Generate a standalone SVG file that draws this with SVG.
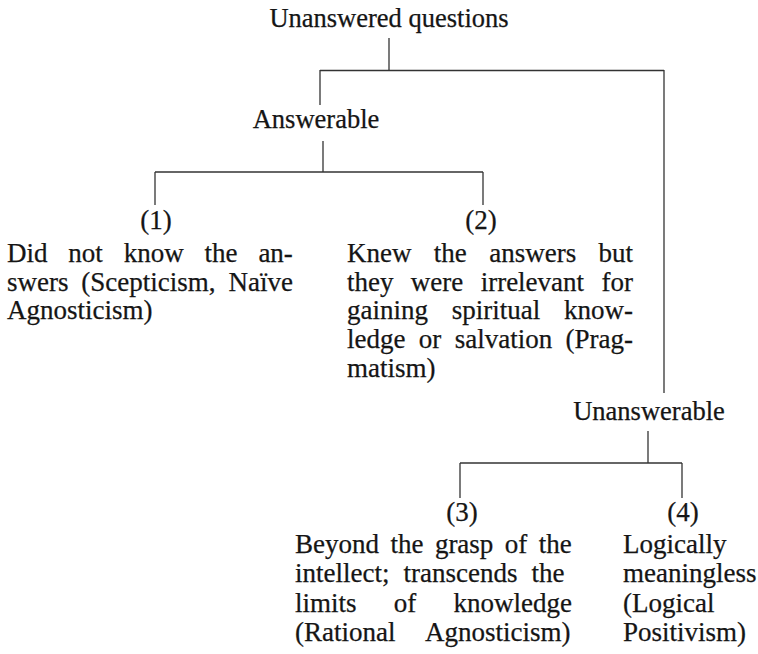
<svg xmlns="http://www.w3.org/2000/svg" width="758" height="654" viewBox="0 0 758 654">
<style>
text{font-family:"Liberation Serif","Times New Roman",serif;font-size:27px;fill:#151515;stroke:#151515;stroke-width:0.25}
.c{text-anchor:middle}
.lab{font-size:26.5px}
.conn line{stroke:#333;stroke-width:1.3;fill:none}
</style>
<rect width="758" height="654" fill="#fff"/>
<g class="conn" id="connectors">
<line x1="389" y1="38" x2="389" y2="70.5"/>
<line x1="320" y1="70.5" x2="664" y2="70.5"/>
<line x1="320" y1="70" x2="320" y2="105"/>
<line x1="664" y1="70" x2="664" y2="393"/>
<line x1="323" y1="141" x2="323" y2="172"/>
<line x1="155" y1="172" x2="483" y2="172"/>
<line x1="155" y1="172" x2="155" y2="205"/>
<line x1="483" y1="172" x2="483" y2="205"/>
<line x1="648" y1="431" x2="648" y2="463"/>
<line x1="460" y1="463" x2="682" y2="463"/>
<line x1="460" y1="463" x2="460" y2="498"/>
<line x1="682" y1="463" x2="682" y2="498"/>
</g>
<g id="root"><text class="c lab" x="389" y="27">Unanswered questions</text></g>
<g id="answerable"><text class="c lab" x="316" y="128">Answerable</text></g>
<g id="unanswerable"><text class="c lab" x="649" y="420">Unanswerable</text></g>
<g id="n1">
<text class="c" x="156" y="229">(1)</text>
<text x="7" y="262" word-spacing="14.1">Did not know the an-</text>
<text x="7" y="290.7" word-spacing="6.1">swers (Scepticism, Naïve</text>
<text x="7" y="319.4">Agnosticism)</text>
</g>
<g id="n2">
<text class="c" x="481" y="229">(2)</text>
<text x="347" y="262" word-spacing="15.6">Knew the answers but</text>
<text x="347" y="290.7" word-spacing="10.6">they were irrelevant for</text>
<text x="347" y="319.4" word-spacing="17">gaining spiritual know-</text>
<text x="347" y="348.1" word-spacing="6.6">ledge or salvation (Prag-</text>
<text x="347" y="376.8">matism)</text>
</g>
<g id="n3">
<text class="c" x="462" y="521">(3)</text>
<text x="295" y="553" word-spacing="4.7">Beyond the grasp of the</text>
<text x="295" y="582.3" word-spacing="7.3">intellect; transcends the</text>
<text x="295" y="611.6" word-spacing="30.5">limits of knowledge</text>
<text x="295" y="641" word-spacing="24.2">(Rational Agnosticism)</text>
</g>
<g id="n4">
<text class="c" x="683" y="521">(4)</text>
<text x="623" y="553">Logically</text>
<text x="623" y="582.3">meaningless</text>
<text x="623" y="611.6">(Logical</text>
<text x="623" y="641">Positivism)</text>
</g>
</svg>
